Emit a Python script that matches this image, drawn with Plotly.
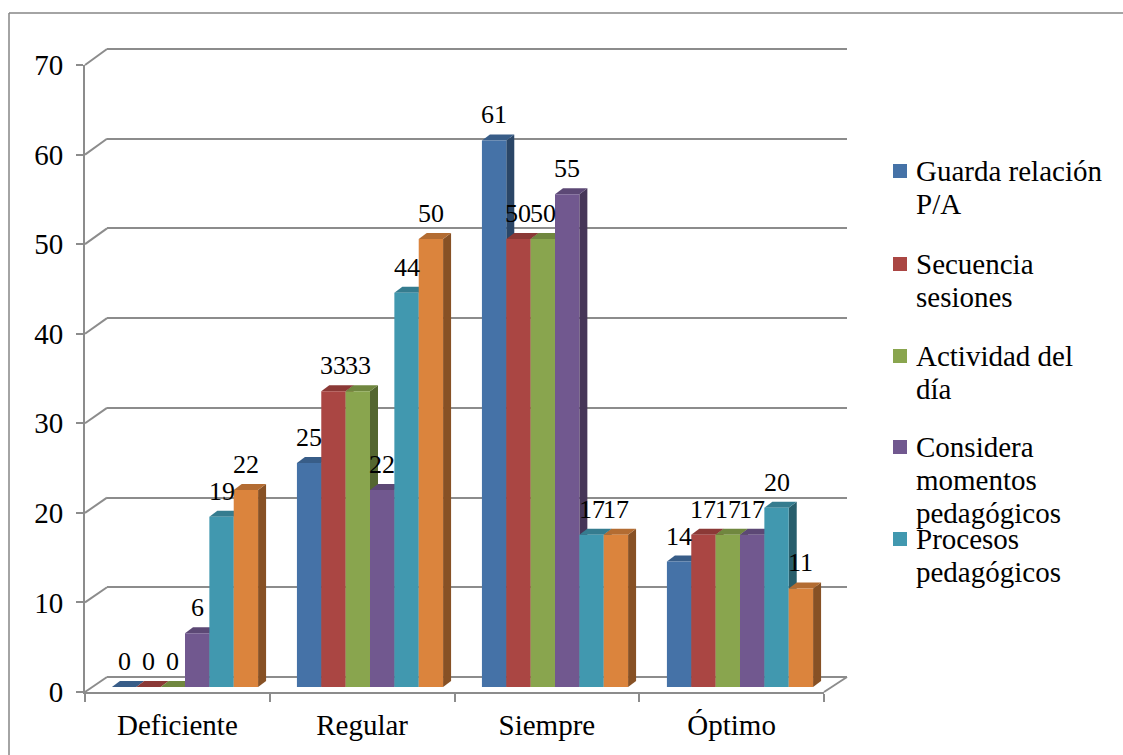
import plotly.graph_objects as go

# ---- data ----
categorias = ["Deficiente", "Regular", "Siempre", "Óptimo"]
series_nombres = [
    "Guarda relación P/A",
    "Secuencia sesiones",
    "Actividad del día",
    "Considera momentos pedagógicos",
    "Procesos pedagógicos",
    "Serie 6",
]
guarda_relacion = [0, 25, 61, 14]
secuencia_sesiones = [0, 33, 50, 17]
actividad_dia = [0, 33, 50, 17]
considera_momentos = [6, 22, 55, 17]
procesos_pedagogicos = [19, 44, 17, 20]
serie_6 = [22, 50, 17, 11]
series_valores = [guarda_relacion, secuencia_sesiones, actividad_dia,
                  considera_momentos, procesos_pedagogicos, serie_6]

# legend rows shown at the right (the last series is not listed)
legend_lines = [
    ["Guarda relación", "P/A"],
    ["Secuencia", "sesiones"],
    ["Actividad del", "día"],
    ["Considera", "momentos", "pedagógicos"],
    ["Procesos", "pedagógicos"],
]
y_ticks = [0, 10, 20, 30, 40, 50, 60, 70]

# ---- style ----
colores = ["#4572A7", "#AA4643", "#89A54E", "#71588F", "#4198AF", "#DB843D"]
FONT = "Liberation Serif"
GRID = "#8C8C8C"
W, H = 1123, 755
Y_MAX = 70


def shade(hex_color, f):
    r, g, b = (int(hex_color[i:i + 2], 16) for i in (1, 3, 5))
    return "rgb(%d,%d,%d)" % (r * f, g * f, b * f)


def fx(p):
    return p / W


def fy(p):
    return 1 - p / H


# pixel geometry of the three planes (back wall, bars, front axes)
back_x = (107, 847)
back_y = (677, 49)
bars_x = (92.5, 832.5)
bars_y = (687, 59.8)
front_x = (85, 824)
front_y = (692, 65)

# back wall axis gets one unit of padding so the top gridline is not clipped
pad = 1
k_back = (back_y[0] - back_y[1]) / Y_MAX
back_dom_y = (back_y[0] + pad * k_back, back_y[1] - pad * k_back)

n_cat = len(categorias)
n_ser = len(series_valores)
bargap = 0.21
w = (1 - bargap) / n_ser

# depth of each bar in pixels, converted to data units of the bar axes
depth_px = (8, 6)
dx = depth_px[0] / ((bars_x[1] - bars_x[0]) / n_cat)
dy = depth_px[1] / ((bars_y[0] - bars_y[1]) / Y_MAX)

fig = go.Figure()

# invisible trace that keeps the back-wall subplot (gridlines) alive
fig.add_trace(go.Scatter(
    x=[0, n_cat - 1], y=[0, Y_MAX], xaxis="x", yaxis="y", mode="markers",
    marker=dict(opacity=0), showlegend=False, hoverinfo="skip",
))

for nombre, vals, col in zip(series_nombres, series_valores, colores):
    fig.add_trace(go.Bar(
        x=categorias, y=vals, name=nombre, xaxis="x2", yaxis="y2",
        marker=dict(color=col, line=dict(width=0)),
        showlegend=False, hoverinfo="x+y+name",
    ))

# invisible trace so the front category axis knows its categories
fig.add_trace(go.Scatter(
    x=categorias, y=[0] * n_cat, xaxis="x3", yaxis="y3", mode="markers",
    marker=dict(opacity=0), showlegend=False, hoverinfo="skip",
))

shapes = []
annotations = []

# side and top faces of the bars, painted left to right inside each group
for i in range(n_cat):
    for j in range(n_ser):
        v = series_valores[j][i]
        left = i - (1 - bargap) / 2 + j * w
        right = left + w
        col = colores[j]
        shapes.append(dict(
            type="path", xref="x2", yref="y2", layer="below",
            path=f"M {right},0 L {right + dx},{dy} L {right + dx},{v + dy} L {right},{v} Z",
            fillcolor=shade(col, 0.62), line=dict(width=0),
        ))
        shapes.append(dict(
            type="path", xref="x2", yref="y2", layer="below",
            path=f"M {left},{v} L {right},{v} L {right + dx},{v + dy} L {left + dx},{v + dy} Z",
            fillcolor=shade(col, 0.82), line=dict(width=0),
        ))
        annotations.append(dict(
            x=(left + right) / 2, y=v, xref="x2", yref="y2",
            text=str(v), showarrow=False, yanchor="bottom", yshift=9,
            font=dict(family=FONT, size=26, color="black"),
        ))

# left wall edges joining the front axis ticks with the back gridlines
for t in y_ticks:
    yf = front_y[0] - (front_y[0] - front_y[1]) * t / Y_MAX
    yb = back_y[0] - (back_y[0] - back_y[1]) * t / Y_MAX
    shapes.append(dict(
        type="line", xref="paper", yref="paper",
        x0=fx(front_x[0]), y0=fy(yf), x1=fx(back_x[0]), y1=fy(yb),
        line=dict(color=GRID, width=2), layer="below",
    ))

# right edge of the floor
shapes.append(dict(
    type="line", xref="paper", yref="paper",
    x0=fx(front_x[1]), y0=fy(front_y[0]), x1=fx(back_x[1]), y1=fy(back_y[0]),
    line=dict(color=GRID, width=2), layer="below",
))

# chart frame
shapes.append(dict(type="line", xref="paper", yref="paper",
                   x0=fx(9), y0=fy(13), x1=1.0, y1=fy(13),
                   line=dict(color="#868686", width=1.5)))
shapes.append(dict(type="line", xref="paper", yref="paper",
                   x0=fx(9), y0=fy(13), x1=fx(9), y1=0.0,
                   line=dict(color="#868686", width=1.5)))

# legend
entry_top = [171, 264, 356, 447, 539]
line_step = 33
for k, lines in enumerate(legend_lines):
    yc = entry_top[k]
    shapes.append(dict(
        type="rect", xref="paper", yref="paper",
        x0=fx(893), x1=fx(907), y0=fy(yc - 7), y1=fy(yc + 7),
        fillcolor=colores[k], line=dict(width=0),
    ))
    for m, txt in enumerate(lines):
        annotations.append(dict(
            x=fx(914), y=fy(yc + m * line_step), xref="paper", yref="paper",
            text=txt, showarrow=False, xanchor="left", yanchor="middle",
            font=dict(family=FONT, size=29, color="black"),
        ))

fig.update_layout(
    width=W, height=H,
    margin=dict(l=0, r=0, t=0, b=0, pad=0, autoexpand=False),
    paper_bgcolor="white", plot_bgcolor="rgba(0,0,0,0)",
    barmode="group", bargap=bargap, bargroupgap=0,
    showlegend=False,
    font=dict(family=FONT, size=29, color="black"),
    shapes=shapes, annotations=annotations,
    # back wall: gridlines
    xaxis=dict(domain=[fx(back_x[0]), fx(back_x[1])], range=[-0.5, n_cat - 0.5],
               showticklabels=False, ticks="", showgrid=False, zeroline=False,
               showline=False, anchor="y", fixedrange=True, automargin=False),
    yaxis=dict(domain=[fy(back_dom_y[0]), fy(back_dom_y[1])],
               range=[-pad, Y_MAX + pad],
               tickvals=y_ticks, showticklabels=False, ticks="",
               showgrid=True, gridcolor=GRID, gridwidth=2,
               zeroline=False, showline=False, anchor="x",
               fixedrange=True, automargin=False),
    # bars
    xaxis2=dict(domain=[fx(bars_x[0]), fx(bars_x[1])], type="category",
                categoryorder="array", categoryarray=categorias,
                range=[-0.5, n_cat - 0.5], visible=False, anchor="y2",
                fixedrange=True, automargin=False),
    yaxis2=dict(domain=[fy(bars_y[0]), fy(bars_y[1])], range=[0, Y_MAX],
                visible=False, anchor="x2", fixedrange=True, automargin=False),
    # front axes
    xaxis3=dict(domain=[fx(front_x[0]), fx(front_x[1])], type="category",
                categoryorder="array", categoryarray=categorias,
                range=[-0.5, n_cat - 0.5], anchor="y3",
                showline=True, linecolor=GRID, linewidth=2,
                ticks="outside", tickson="boundaries", ticklen=8,
                tickcolor=GRID, tickwidth=2, showgrid=False,
                ticklabelstandoff=6,
                tickfont=dict(family=FONT, size=29, color="black"),
                fixedrange=True, automargin=False),
    yaxis3=dict(domain=[fy(front_y[0]), fy(front_y[1])], range=[0, Y_MAX],
                tickvals=y_ticks, anchor="x3",
                showline=True, linecolor=GRID, linewidth=2,
                ticks="outside", ticklen=7, tickcolor=GRID, tickwidth=2,
                showgrid=False, zeroline=False,
                ticklabelstandoff=7,
                tickfont=dict(family=FONT, size=29, color="black"),
                fixedrange=True, automargin=False),
)

fig.write_html("out.html")
